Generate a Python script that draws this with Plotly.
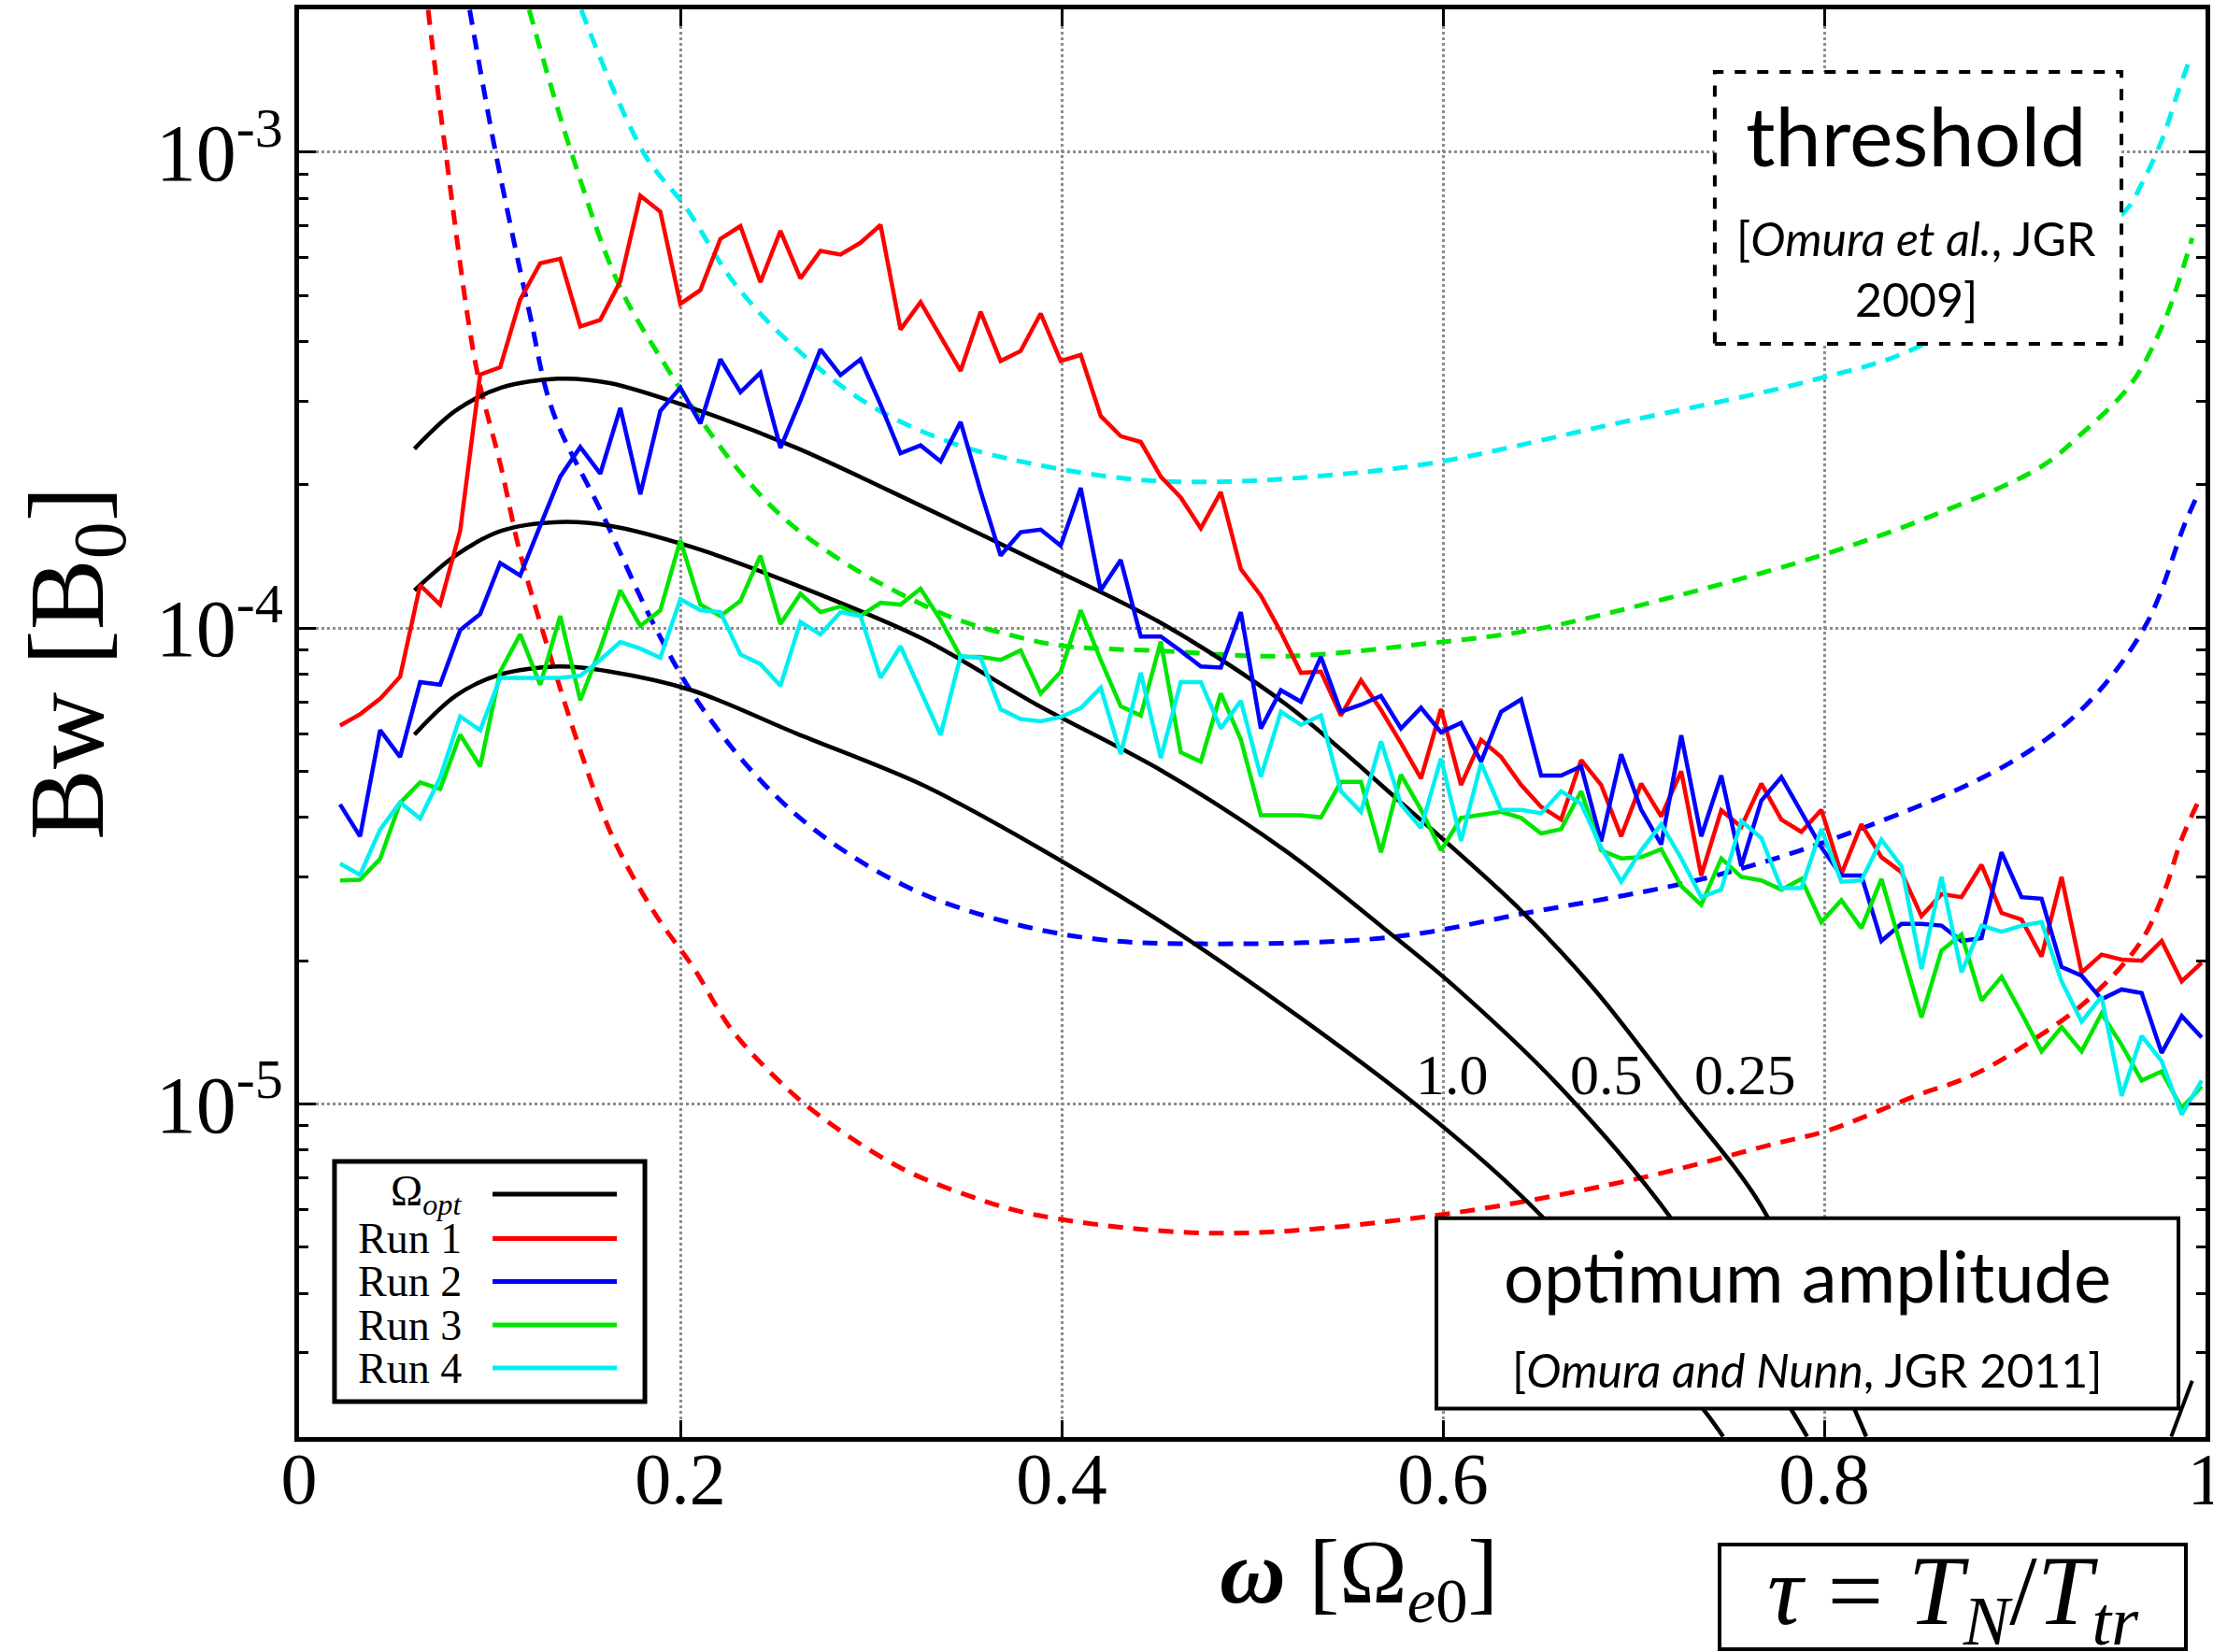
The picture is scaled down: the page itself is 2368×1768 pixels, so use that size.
import plotly.graph_objects as go

# ---------------- data ----------------
freq = [0.0215, 0.032, 0.0425, 0.053, 0.0635, 0.074, 0.0845, 0.095, 0.1055, 0.116,
        0.1265, 0.137, 0.1475, 0.158, 0.1685, 0.179, 0.1895, 0.2, 0.2105, 0.221,
        0.2315, 0.242, 0.2525, 0.263, 0.2735, 0.284, 0.2945, 0.305, 0.3155, 0.326,
        0.3365, 0.347, 0.3575, 0.368, 0.3785, 0.389, 0.3995, 0.41, 0.4205, 0.431,
        0.4415, 0.452, 0.4625, 0.473, 0.4835, 0.494, 0.5045, 0.515, 0.5255, 0.536,
        0.5465, 0.557, 0.5675, 0.578, 0.5885, 0.599, 0.6095, 0.62, 0.6305, 0.641,
        0.6515, 0.662, 0.6725, 0.683, 0.6935, 0.704, 0.7145, 0.725, 0.7355, 0.746,
        0.7565, 0.767, 0.7775, 0.788, 0.7985, 0.809, 0.8195, 0.83, 0.8405, 0.851,
        0.8615, 0.872, 0.8825, 0.893, 0.9035, 0.914, 0.9245, 0.935, 0.9455, 0.956,
        0.9665, 0.977, 0.9875, 0.998]

run1 = [6.24e-5, 6.59e-5, 7.1e-5, 7.9e-5, 1.23e-4, 1.12e-4, 1.6e-4, 3.41e-4, 3.53e-4, 4.9e-4,
        5.84e-4, 5.97e-4, 4.3e-4, 4.44e-4, 5.35e-4, 8.1e-4, 7.5e-4, 4.8e-4, 5.13e-4, 6.57e-4,
        6.99e-4, 5.33e-4, 6.83e-4, 5.43e-4, 6.2e-4, 6.09e-4, 6.45e-4, 7.03e-4, 4.24e-4, 4.84e-4,
        4.1e-4, 3.47e-4, 4.62e-4, 3.64e-4, 3.82e-4, 4.58e-4, 3.64e-4, 3.75e-4, 2.79e-4, 2.53e-4,
        2.46e-4, 2.08e-4, 1.88e-4, 1.62e-4, 1.93e-4, 1.33e-4, 1.17e-4, 9.8e-5, 8.05e-5, 8.1e-5,
        6.55e-5, 7.77e-5, 6.73e-5, 5.73e-5, 4.83e-5, 6.76e-5, 4.68e-5, 5.82e-5, 5.36e-5, 4.68e-5,
        4.21e-5, 3.96e-5, 5.28e-5, 4.68e-5, 3.65e-5, 4.71e-5, 4.02e-5, 5.0e-5, 3.02e-5, 4.14e-5,
        3.82e-5, 4.71e-5, 3.96e-5, 3.73e-5, 4.15e-5, 3.04e-5, 3.87e-5, 3.3e-5, 3.07e-5, 2.48e-5,
        2.76e-5, 2.72e-5, 3.18e-5, 2.52e-5, 2.44e-5, 2.04e-5, 3.0e-5, 1.89e-5, 2.06e-5, 2.01e-5,
        2.0e-5, 2.2e-5, 1.81e-5, 1.98e-5]

run2 = [4.26e-5, 3.65e-5, 6.1e-5, 5.36e-5, 7.7e-5, 7.6e-5, 9.9e-5, 1.07e-4, 1.37e-4, 1.29e-4,
        1.64e-4, 2.08e-4, 2.4e-4, 2.11e-4, 2.9e-4, 1.91e-4, 2.86e-4, 3.2e-4, 2.69e-4, 3.67e-4,
        3.13e-4, 3.44e-4, 2.39e-4, 3.01e-4, 3.85e-4, 3.4e-4, 3.67e-4, 2.95e-4, 2.33e-4, 2.42e-4,
        2.24e-4, 2.71e-4, 1.94e-4, 1.42e-4, 1.59e-4, 1.61e-4, 1.49e-4, 1.97e-4, 1.2e-4, 1.39e-4,
        9.6e-5, 9.6e-5, 8.95e-5, 8.3e-5, 8.26e-5, 1.08e-4, 6.15e-5, 7.4e-5, 7.0e-5, 8.7e-5,
        6.67e-5, 6.9e-5, 7.2e-5, 6.15e-5, 6.8e-5, 6.04e-5, 6.32e-5, 5.24e-5, 6.67e-5, 7.08e-5,
        4.9e-5, 4.9e-5, 5.12e-5, 3.56e-5, 5.43e-5, 4.15e-5, 3.51e-5, 5.95e-5, 3.65e-5, 4.9e-5,
        3.16e-5, 4.34e-5, 4.86e-5, 4.1e-5, 3.46e-5, 3.02e-5, 3.02e-5, 2.2e-5, 2.39e-5, 2.39e-5,
        2.37e-5, 2.2e-5, 2.23e-5, 3.38e-5, 2.72e-5, 2.7e-5, 1.94e-5, 1.86e-5, 1.66e-5, 1.74e-5,
        1.71e-5, 1.28e-5, 1.53e-5, 1.38e-5]

run3 = [2.95e-5, 2.96e-5, 3.27e-5, 4.29e-5, 4.74e-5, 4.59e-5, 5.97e-5, 5.12e-5, 8.1e-5, 9.7e-5,
        7.6e-5, 1.06e-4, 7.05e-5, 9.06e-5, 1.2e-4, 1.01e-4, 1.09e-4, 1.53e-4, 1.12e-4, 1.06e-4,
        1.14e-4, 1.42e-4, 1.02e-4, 1.18e-4, 1.08e-4, 1.11e-4, 1.06e-4, 1.13e-4, 1.12e-4, 1.21e-4,
        1.04e-4, 8.7e-5, 8.7e-5, 8.57e-5, 8.98e-5, 7.28e-5, 8.09e-5, 1.09e-4, 8.57e-5, 6.85e-5,
        6.55e-5, 9.37e-5, 5.48e-5, 5.24e-5, 7.29e-5, 5.83e-5, 4.04e-5, 4.04e-5, 4.04e-5, 4.0e-5,
        4.75e-5, 4.75e-5, 3.38e-5, 4.92e-5, 4.15e-5, 3.41e-5, 3.99e-5, 4.05e-5, 4.11e-5, 3.99e-5,
        3.7e-5, 3.78e-5, 4.54e-5, 3.41e-5, 3.28e-5, 3.3e-5, 3.43e-5, 2.87e-5, 2.62e-5, 3.28e-5,
        3.0e-5, 2.95e-5, 2.82e-5, 2.97e-5, 2.41e-5, 2.68e-5, 2.34e-5, 2.97e-5, 2.14e-5, 1.52e-5,
        2.1e-5, 2.27e-5, 1.65e-5, 1.85e-5, 1.55e-5, 1.29e-5, 1.45e-5, 1.29e-5, 1.55e-5, 1.33e-5,
        1.12e-5, 1.17e-5, 9.8e-6, 1.09e-5]

run4 = [3.2e-5, 3.03e-5, 3.77e-5, 4.3e-5, 3.98e-5, 4.85e-5, 6.52e-5, 6.1e-5, 7.86e-5, 7.86e-5,
        7.86e-5, 7.86e-5, 7.94e-5, 8.57e-5, 9.35e-5, 9.05e-5, 8.66e-5, 1.15e-4, 1.09e-4, 1.08e-4,
        8.8e-5, 8.4e-5, 7.56e-5, 1.03e-4, 9.7e-5, 1.08e-4, 1.06e-4, 7.86e-5, 9.15e-5, 7.35e-5,
        5.96e-5, 8.73e-5, 8.65e-5, 6.75e-5, 6.44e-5, 6.37e-5, 6.5e-5, 6.79e-5, 7.49e-5, 5.43e-5,
        8.05e-5, 5.33e-5, 7.7e-5, 7.7e-5, 6.15e-5, 7.03e-5, 4.87e-5, 6.67e-5, 6.26e-5, 6.55e-5,
        4.54e-5, 4.11e-5, 5.78e-5, 4.26e-5, 3.8e-5, 5.32e-5, 3.57e-5, 5.2e-5, 4.15e-5, 4.15e-5,
        4.08e-5, 4.54e-5, 4.27e-5, 3.46e-5, 2.93e-5, 3.41e-5, 3.87e-5, 3.28e-5, 2.72e-5, 2.82e-5,
        3.93e-5, 3.62e-5, 2.84e-5, 2.84e-5, 3.78e-5, 2.93e-5, 2.95e-5, 3.59e-5, 3.16e-5, 1.92e-5,
        3.0e-5, 1.89e-5, 2.37e-5, 2.3e-5, 2.37e-5, 2.41e-5, 1.81e-5, 1.49e-5, 1.68e-5, 1.04e-5,
        1.39e-5, 1.23e-5, 9.5e-6, 1.12e-5]

# optimum amplitude curves (tau = 0.25, 0.5, 1.0)
opt025_x = [0.0605, 0.082, 0.106, 0.136, 0.163, 0.206, 0.261, 0.327, 0.387, 0.453, 0.518,
            0.578, 0.6405, 0.680, 0.723, 0.767, 0.8145, 0.822]
opt025_y = [2.38e-4, 2.86e-4, 3.2e-4, 3.34e-4, 3.27e-4, 2.9e-4, 2.39e-4, 1.8e-4, 1.38e-4, 1.02e-4, 6.9e-5,
            4.3e-5, 2.56e-5, 1.73e-5, 1.04e-5, 6.1e-6, 2.35e-6, 2.0e-6]
opt05_x = [0.0605, 0.082, 0.106, 0.136, 0.163, 0.206, 0.261, 0.327, 0.387, 0.453, 0.518,
           0.569, 0.605, 0.660, 0.719, 0.783, 0.791]
opt05_y = [1.2e-4, 1.42e-4, 1.6e-4, 1.67e-4, 1.64e-4, 1.48e-4, 1.23e-4, 9.5e-5, 6.9e-5, 5.0e-5, 3.39e-5,
           2.34e-5, 1.78e-5, 1.1e-5, 5.8e-6, 2.27e-6, 2.0e-6]
opt10_x = [0.0605, 0.082, 0.106, 0.136, 0.163, 0.206, 0.261, 0.327, 0.387, 0.466, 0.584,
           0.652, 0.737, 0.747]
opt10_y = [5.97e-5, 7.2e-5, 8.0e-5, 8.3e-5, 8.1e-5, 7.4e-5, 6.0e-5, 4.68e-5, 3.47e-5, 2.22e-5, 1.01e-5,
           5.8e-6, 2.27e-6, 2.0e-6]
opt_tail_x = [0.982, 0.993]
opt_tail_y = [2.0e-6, 2.62e-6]

# threshold amplitude curves (dashed)
thr1_x = [0.0677, 0.077, 0.093, 0.1057, 0.1157, 0.128, 0.148, 0.165, 0.187, 0.207, 0.2265, 0.2515,
          0.2728, 0.315, 0.353, 0.388, 0.481, 0.596, 0.6995, 0.7745, 0.8025, 0.848, 0.878, 0.908,
          0.938, 0.966, 0.979, 0.987, 0.996]
thr1_y = [1.99e-3, 9.93e-4, 3.52e-4, 2.2e-4, 1.45e-4, 9.8e-5, 5.46e-5, 3.6e-5, 2.5e-5, 1.93e-5, 1.44e-5,
          1.12e-5, 9.46e-6, 7.36e-6, 6.38e-6, 5.83e-6, 5.35e-6, 5.83e-6, 6.93e-6, 8.26e-6, 8.81e-6,
          1.04e-5, 1.15e-5, 1.35e-5, 1.65e-5, 2.19e-5, 2.84e-5, 3.56e-5, 4.3e-5]
thr2_x = [0.0895, 0.1032, 0.1207, 0.133, 0.159, 0.187, 0.2097, 0.243, 0.277, 0.322, 0.370, 0.418,
          0.4735, 0.5725, 0.644, 0.739, 0.818, 0.8975, 0.937, 0.969, 0.989, 0.997]
thr2_y = [1.99e-3, 9.93e-4, 4.63e-4, 2.86e-4, 1.74e-4, 1.0e-4, 6.95e-5, 4.74e-5, 3.6e-5, 2.82e-5, 2.42e-5,
          2.22e-5, 2.17e-5, 2.24e-5, 2.52e-5, 2.99e-5, 3.77e-5, 5.21e-5, 6.87e-5, 1.02e-4, 1.65e-4, 1.95e-4]
thr3_x = [0.1207, 0.143, 0.168, 0.193, 0.2144, 0.233, 0.2566, 0.2876, 0.3137, 0.343, 0.376, 0.400,
          0.4525, 0.518, 0.593, 0.644, 0.693, 0.7956, 0.858, 0.9135, 0.934, 0.961, 0.9775, 0.9856, 0.993]
thr3_y = [1.99e-3, 9.93e-4, 5.24e-4, 3.52e-4, 2.61e-4, 2.09e-4, 1.67e-4, 1.36e-4, 1.19e-4, 1.05e-4,
          9.6e-5, 9.18e-5, 8.95e-5, 8.73e-5, 9.29e-5, 9.86e-5, 1.09e-4, 1.41e-4, 1.73e-4, 2.18e-4,
          2.54e-4, 3.26e-4, 4.33e-4, 5.3e-4, 6.6e-4]
thr4_x = [0.148, 0.181, 0.2032, 0.2284, 0.2593, 0.2988, 0.341, 0.383, 0.4395, 0.4846, 0.538, 0.594,
          0.687, 0.7956, 0.85, 0.957, 0.9666, 0.9775, 0.9856, 0.9924]
thr4_y = [1.99e-3, 9.93e-4, 7.62e-4, 5.3e-4, 3.91e-4, 2.95e-4, 2.46e-4, 2.22e-4, 2.05e-4, 2.03e-4,
          2.09e-4, 2.22e-4, 2.67e-4, 3.33e-4, 3.91e-4, 7.46e-4, 8.59e-4, 1.07e-3, 1.34e-3, 1.59e-3]

x_tickvals = [0, 0.2, 0.4, 0.6, 0.8, 1]
x_ticktext = ["0", "0.2", "0.4", "0.6", "0.8", "1"]
y_tickvals = [1e-5, 1e-4, 1e-3]
y_ticktext = ["10<sup>-5</sup>", "10<sup>-4</sup>", "10<sup>-3</sup>"]
y_minorvals = [m * 10.0 ** e for e in (-6, -5, -4, -3) for m in range(2, 10)]

legend_labels = ["Ω<sub><i>opt</i></sub>", "Run 1", "Run 2", "Run 3", "Run 4"]
tau_labels = ["1.0", "0.5", "0.25"]

RED, BLUE, GREEN, CYAN, BLACK = "#ff0000", "#0000ff", "#00e600", "#00f0f0", "#000000"
legend_colors = [BLACK, RED, BLUE, GREEN, CYAN]
SERIF = "Liberation Serif"
SANS = "Lato"

fig = go.Figure()

DASH = "16px,11px"
for xs, ys, c in [(thr1_x, thr1_y, RED), (thr2_x, thr2_y, BLUE),
                  (thr3_x, thr3_y, GREEN), (thr4_x, thr4_y, CYAN)]:
    fig.add_trace(go.Scatter(x=xs, y=ys, mode="lines", showlegend=False,
                             line=dict(color=c, width=5, dash=DASH, shape="spline", smoothing=1.0)))

for xs, ys in [(opt025_x, opt025_y), (opt05_x, opt05_y), (opt10_x, opt10_y)]:
    fig.add_trace(go.Scatter(x=xs, y=ys, mode="lines", showlegend=False,
                             line=dict(color=BLACK, width=4.5, shape="spline", smoothing=0.9)))
fig.add_trace(go.Scatter(x=opt_tail_x, y=opt_tail_y, mode="lines", showlegend=False,
                         line=dict(color=BLACK, width=4)))

for ys, c in [(run1, RED), (run2, BLUE), (run3, GREEN), (run4, CYAN)]:
    fig.add_trace(go.Scatter(x=freq, y=ys, mode="lines", showlegend=False,
                             line=dict(color=c, width=4.5)))

shapes = []
annotations = []

# threshold box (dashed)
shapes.append(dict(type="rect", xref="paper", yref="paper", x0=0.7426, x1=0.9559, y0=0.7657, y1=0.9562,
                   line=dict(color="black", width=4, dash="dash"), fillcolor="white", layer="above"))
annotations += [
    dict(text="threshold", x=0.8485, y=0.9121, font=dict(family=SANS, size=88, color="black")),
    dict(text="[<i>Omura et al.</i>, JGR", x=0.8485, y=0.8398, font=dict(family=SANS, size=50, color="black")),
    dict(text="2009]", x=0.8485, y=0.7972, font=dict(family=SANS, size=50, color="black")),
]

# optimum amplitude box
shapes.append(dict(type="rect", xref="paper", yref="paper", x0=0.5966, x1=0.9858, y0=0.0200, y1=0.1533,
                   line=dict(color="black", width=4), fillcolor="white", layer="above"))
annotations += [
    dict(text="optimum amplitude", x=0.7912, y=0.1136, font=dict(family=SANS, size=76, color="black")),
    dict(text="[<i>Omura and Nunn</i>, JGR 2011]", x=0.7912, y=0.0471,
         font=dict(family=SANS, size=50, color="black")),
]

# tau box under the axis
shapes.append(dict(type="rect", xref="paper", yref="paper", x0=0.7451, x1=0.9897, y0=-0.1486, y1=-0.0753,
                   line=dict(color="black", width=4), fillcolor="white", layer="above"))
annotations.append(dict(text="<i>τ</i> = <i>T</i><sub><i>N</i></sub>/<i>T</i><sub><i>tr</i></sub>",
                        x=0.8676, y=-0.1125, font=dict(family=SERIF, size=106, color="black")))

# tau labels on the optimum curves
for lab, xp in zip(tau_labels, [0.6050, 0.6856, 0.7588]):
    annotations.append(dict(text=lab, x=xp, y=0.2536, font=dict(family=SERIF, size=62, color="black")))

# custom legend
shapes.append(dict(type="rect", xref="paper", yref="paper", x0=0.0186, x1=0.1814, y0=0.0249, y1=0.193,
                   line=dict(color="black", width=5), fillcolor="white", layer="above"))
rows = [0.1702, 0.1391, 0.1090, 0.0785, 0.0484]
for lab, col, yp in zip(legend_labels, legend_colors, rows):
    shapes.append(dict(type="line", xref="paper", yref="paper", x0=0.1015, x1=0.1667, y0=yp, y1=yp,
                       line=dict(color=col, width=5), layer="above"))
    annotations.append(dict(text=lab, x=0.0863, y=yp, xanchor="right",
                            font=dict(family=SERIF, size=46, color="black")))

# axis titles
annotations.append(dict(text="Bw [B<sub>0</sub>]", x=-0.1176, y=0.5419, textangle=-90,
                        font=dict(family=SERIF, size=114, color="black")))
annotations.append(dict(text="<b><i>ω</i></b> [Ω<sub><i>e</i>0</sub>]", x=0.5559, y=-0.0990,
                        font=dict(family=SERIF, size=98, color="black")))

for a in annotations:
    a.setdefault("xref", "paper")
    a.setdefault("yref", "paper")
    a.setdefault("showarrow", False)
    a.setdefault("xanchor", "center")
    a.setdefault("yanchor", "middle")

fig.update_layout(
    width=2368, height=1768,
    margin=dict(l=320, r=8, t=10, b=230, autoexpand=False),
    paper_bgcolor="white", plot_bgcolor="white",
    showlegend=False,
    shapes=shapes, annotations=annotations,
    xaxis=dict(range=[0, 1], tickmode="array", tickvals=x_tickvals, ticktext=x_ticktext,
               ticks="inside", ticklen=18, tickwidth=3, tickcolor="black",
               showline=True, linewidth=5, linecolor="black", mirror="ticks",
               showgrid=True, gridcolor="#8c8c8c", gridwidth=2.5, griddash="dot", zeroline=False,
               tickfont=dict(family=SERIF, size=78, color="black"), ticklabelstandoff=-28,
               ticklabeloverflow="allow", automargin=False),
    yaxis=dict(type="log", range=[-5.70, -2.70], tickmode="array", tickvals=y_tickvals, ticktext=y_ticktext,
               ticks="inside", ticklen=18, tickwidth=3, tickcolor="black",
               minor=dict(tickmode="array", tickvals=y_minorvals, ticks="inside", ticklen=10,
                          tickwidth=3, tickcolor="black", showgrid=False),
               showline=True, linewidth=5, linecolor="black", mirror="ticks",
               showgrid=True, gridcolor="#8c8c8c", gridwidth=2.5, griddash="dot", zeroline=False,
               tickfont=dict(family=SERIF, size=86, color="black"), ticklabelstandoff=-5,
               ticklabeloverflow="allow", automargin=False),
)

fig.write_html("out.html")
